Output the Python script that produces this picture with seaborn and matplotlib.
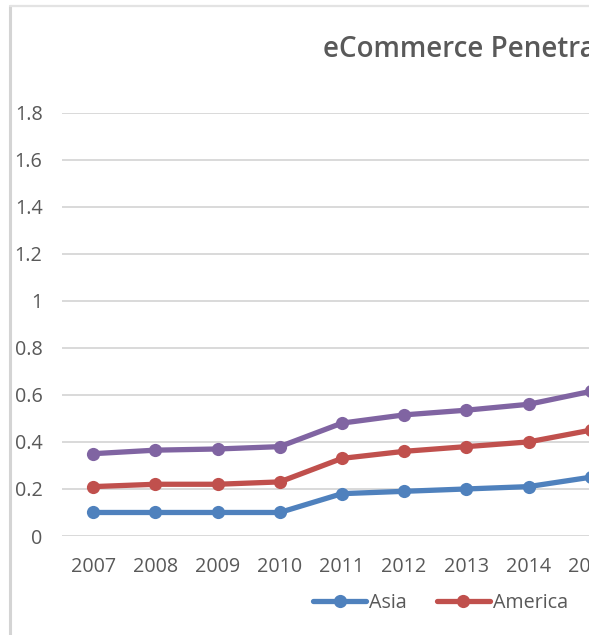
import matplotlib
matplotlib.use("Agg")
import matplotlib.pyplot as plt
import seaborn as sns
import pandas as pd
from matplotlib.lines import Line2D

years = [2007, 2008, 2009, 2010, 2011, 2012, 2013, 2014, 2015]
asia = [0.10, 0.10, 0.10, 0.10, 0.18, 0.19, 0.20, 0.21, 0.25]
america = [0.21, 0.22, 0.22, 0.23, 0.33, 0.36, 0.38, 0.40, 0.45]
europe = [0.35, 0.365, 0.37, 0.38, 0.48, 0.515, 0.535, 0.56, 0.615]
series_names = ["Asia", "America", "Europe"]
y_ticks = [0, 0.2, 0.4, 0.6, 0.8, 1, 1.2, 1.4, 1.6, 1.8]
y_tick_labels = ["0", "0.2", "0.4", "0.6", "0.8", "1", "1.2", "1.4", "1.6", "1.8"]
title = "eCommerce Penetration"

colors = {"Asia": "#4F81BD", "America": "#C0504D", "Europe": "#8064A2"}

rows = []
for name, vals in zip(series_names, [asia, america, europe]):
    for yr, v in zip(years, vals):
        rows.append({"Year": yr, "Value": v, "Region": name})
df = pd.DataFrame(rows)

sns.set_theme(style="white")
plt.rcParams["font.family"] = ["Open Sans", "DejaVu Sans"]

W, H = 589, 635
dpi = 100
fig = plt.figure(figsize=(W / dpi, H / dpi), dpi=dpi)
fig.patch.set_facecolor("white")

left_px, top_px, bottom_px = 62, 112.7, 536
step = 62.2
ax_w_px = step * len(years)
ax = fig.add_axes([left_px / W, (H - bottom_px) / H, ax_w_px / W, (bottom_px - top_px) / H])

lw = 3.8
ms = 9.5
sns.lineplot(data=df, x="Year", y="Value", hue="Region", hue_order=series_names,
             palette=colors, marker="o", markersize=ms, markeredgewidth=0,
             linewidth=lw, ax=ax, legend=False, sort=False)

ax.set_xlim(years[0] - 0.5, years[-1] + 0.5)
ax.set_ylim(0, 1.8)
ax.set_yticks(y_ticks)
ax.set_yticklabels(y_tick_labels)
ax.set_xticks(years)
ax.set_xticklabels([str(y) for y in years])
ax.set_xlabel("")
ax.set_ylabel("")
for s in ax.spines.values():
    s.set_visible(False)
ax.grid(axis="y", color="#d9d9d9", linewidth=1.4)
ax.grid(axis="x", visible=False)
ax.set_axisbelow(True)
ax.tick_params(axis="y", length=0, pad=14, labelsize=14.2, labelcolor="#595959")
ax.tick_params(axis="x", length=0, pad=15, labelsize=14.2, labelcolor="#595959")

# title
fig.text(323 / W, (H - 57) / H, title, ha="left", va="baseline",
         fontsize=20, fontweight="semibold", color="#595959")

# legend
handles = [Line2D([0], [0], color=colors[n], linewidth=lw, marker="o",
                  markersize=ms, markeredgewidth=0) for n in series_names]
fig.legend(handles, series_names, loc="center left",
           bbox_to_anchor=(313 / W, (H - 603) / H), ncol=3, frameon=False,
           fontsize=14.2, labelcolor="#595959", handlelength=2.7,
           handletextpad=0.15, columnspacing=1.5, borderpad=0, borderaxespad=0)

# chart area border (left and top)
fig.add_artist(Line2D([9.5 / W, 9.5 / W], [0, (H - 6) / H], color="#d4d4d4",
                      linewidth=2.2, transform=fig.transFigure))
fig.add_artist(Line2D([9.5 / W, 1.0], [(H - 6) / H, (H - 6) / H], color="#e3e3e3",
                      linewidth=1.6, transform=fig.transFigure))

fig.savefig("out.png", dpi=dpi)
